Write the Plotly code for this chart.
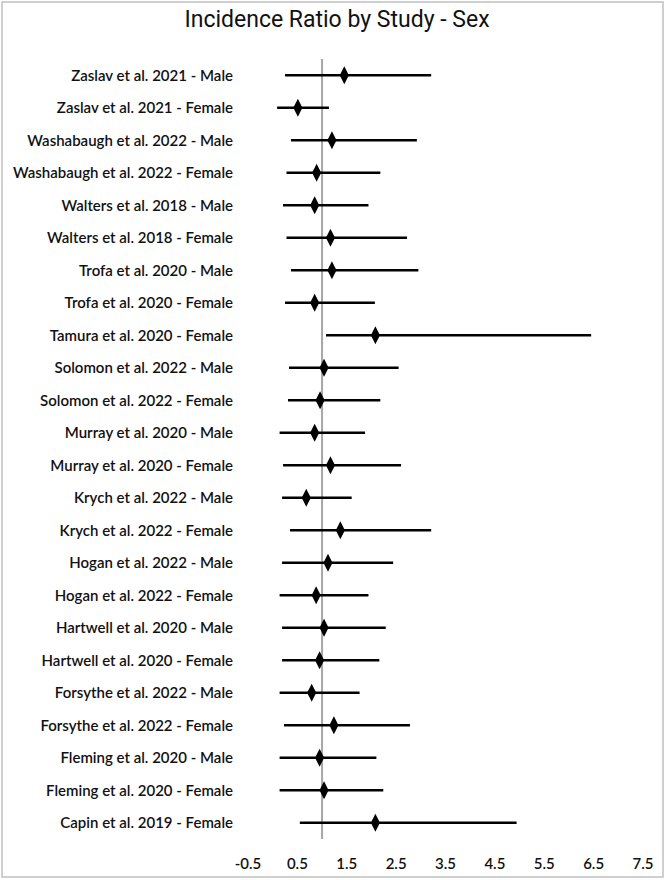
import plotly.graph_objects as go

studies = [
    "Zaslav et al. 2021 - Male",
    "Zaslav et al. 2021 - Female",
    "Washabaugh et al. 2022 - Male",
    "Washabaugh et al. 2022 - Female",
    "Walters et al. 2018 - Male",
    "Walters et al. 2018 - Female",
    "Trofa et al. 2020 - Male",
    "Trofa et al. 2020 - Female",
    "Tamura et al. 2020 - Female",
    "Solomon et al. 2022 - Male",
    "Solomon et al. 2022 - Female",
    "Murray et al. 2020 - Male",
    "Murray et al. 2020 - Female",
    "Krych et al. 2022 - Male",
    "Krych et al. 2022 - Female",
    "Hogan et al. 2022 - Male",
    "Hogan et al. 2022 - Female",
    "Hartwell et al. 2020 - Male",
    "Hartwell et al. 2020 - Female",
    "Forsythe et al. 2022 - Male",
    "Forsythe et al. 2022 - Female",
    "Fleming et al. 2020 - Male",
    "Fleming et al. 2020 - Female",
    "Capin et al. 2019 - Female",
]
ratio = [1.45, 0.51, 1.20, 0.89, 0.85, 1.17, 1.20, 0.85, 2.08, 1.04, 0.96, 0.85, 1.17,
         0.68, 1.37, 1.12, 0.88, 1.04, 0.95, 0.79, 1.24, 0.95, 1.04, 2.08]
lower = [0.25, 0.09, 0.37, 0.28, 0.21, 0.28, 0.37, 0.25, 1.08, 0.33, 0.31, 0.14, 0.21,
         0.19, 0.35, 0.19, 0.14, 0.19, 0.19, 0.14, 0.23, 0.14, 0.14, 0.55]
upper = [3.21, 1.14, 2.92, 2.18, 1.94, 2.72, 2.95, 2.07, 6.45, 2.55, 2.18, 1.87, 2.60,
         1.60, 3.21, 2.44, 1.94, 2.29, 2.16, 1.76, 2.78, 2.10, 2.24, 4.94]
xticks = [-0.5, 0.5, 1.5, 2.5, 3.5, 4.5, 5.5, 6.5, 7.5]
ref_value = 1

fig = go.Figure()
fig.add_trace(go.Scatter(
    x=ratio, y=studies, mode="markers",
    marker=dict(symbol="diamond-tall", size=13, color="black"),
    error_x=dict(type="data", symmetric=False,
                 array=[u - r for u, r in zip(upper, ratio)],
                 arrayminus=[r - l for r, l in zip(ratio, lower)],
                 color="black", thickness=2.5, width=0),
    showlegend=False,
))

L, R, T, B = 248, 23, 59, 41
W, H = 666, 880
pw, ph = W - L - R, H - T - B

fig.add_shape(type="line", xref="x", yref="paper", x0=ref_value, x1=ref_value, y0=0, y1=1,
              line=dict(color="#a6a6a6", width=2), layer="below")
# outer chart border
fig.add_shape(type="rect", xref="paper", yref="paper",
              x0=(2 - L) / pw, x1=(663 - L) / pw,
              y0=(H - B - 877) / ph, y1=(H - B - 2) / ph,
              line=dict(color="#c0c0c0", width=1.5), fillcolor="rgba(0,0,0,0)")

lab_font = dict(family="Lato", size=15, color="#111111", weight=600)

fig.update_layout(
    width=W, height=H,
    margin=dict(l=L, r=R, t=T, b=B, autoexpand=False),
    paper_bgcolor="white", plot_bgcolor="white",
    title=dict(text="Incidence Ratio by Study - Sex", x=337 / W, xanchor="center",
               y=1 - 19 / H, yanchor="middle",
               font=dict(family="Roboto", size=23, color="#111111")),
    xaxis=dict(range=[-0.5, 7.5], tickvals=xticks, ticktext=[f"{v:.1f}" for v in xticks],
               showgrid=False, zeroline=False, showline=False, ticks="",
               tickfont=lab_font, ticklabelstandoff=14, automargin=False),
    yaxis=dict(range=[23.5, -0.5], categoryorder="array", categoryarray=studies,
               showgrid=False, zeroline=False, showline=False, ticks="",
               tickfont=lab_font, ticklabelstandoff=14, automargin=False),
)

fig.write_html("out.html")
